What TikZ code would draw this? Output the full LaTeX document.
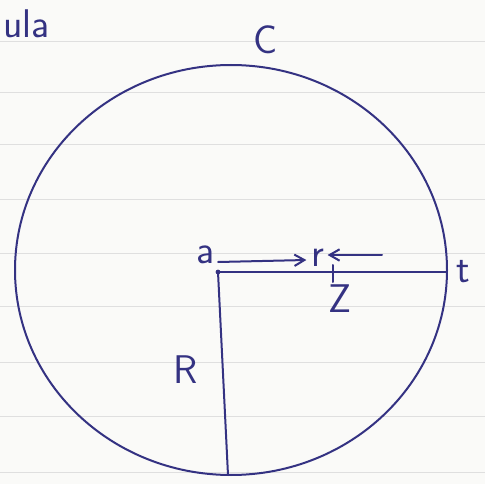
\documentclass[tikz,border=0pt]{standalone}
\usepackage{tikz}
\usetikzlibrary{arrows.meta, positioning, calc}
\definecolor{inkblue}{RGB}{52,50,130}
\definecolor{paper}{RGB}{250,250,248}

\begin{document}
\begin{tikzpicture}[x=1pt, y=-1pt,
    ink/.style={draw=inkblue, line width=2pt, line cap=round},
    lbl/.style={text=inkblue, font=\sffamily\fontsize{40}{40}\selectfont, inner sep=1pt},
    arrow/.style={-{Straight Barb[length=3.5mm, width=4mm]}, ink},
    rule/.style={draw=gray!25, line width=1pt}
]
\fill[paper] (0,0) rectangle (485,484);
\useasboundingbox (0,0) rectangle (485,484);

% Ruled paper
\foreach \y in {42,93,145,200,253,306,362,416,472}
    \draw[rule] (0,\y) -- (485,\y);

% Circle
\draw[ink] (231,270) ellipse [x radius=216, y radius=205];

% Points
\coordinate (a) at (218,272);
\coordinate (t) at (447,272);
\coordinate (b) at (228,475);
\coordinate (z) at (333,272);
\coordinate (rt) at (382,255);

% Radii
\draw[ink] (a) -- (t);
\draw[ink] (a) -- (b);
\draw[ink] ($(z)+(0,-7)$) -- ($(z)+(0,10)$);
\fill[inkblue] (a) circle (2.4);

% Labels
\node[lbl] (alab) at (206,255) {a};
\node[lbl] (rlab) at (318,258) {r};
\node[lbl] (tlab) at (463,272) {t};
\node[lbl] (zlab) at (340,299) {Z};
\node[lbl] (Rlab) at (186,370) {R};
\node[lbl] (Clab) at (266,40) {C};
\node[lbl, anchor=west] (title) at (2,24) {ula};

% Arrows
\draw[arrow] ($(alab.east)+(2,7)$) -- ($(rlab.west)+(-4,2)$);
\draw[arrow] (rt) -- ($(rlab.east)+(2,-3)$);

\end{tikzpicture}
\end{document}
